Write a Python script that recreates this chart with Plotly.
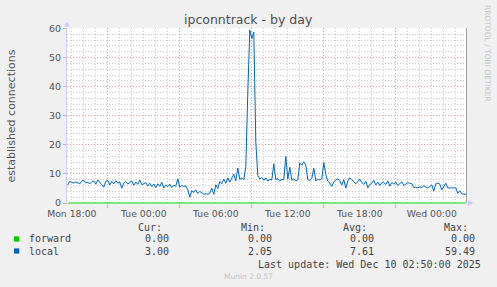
import plotly.graph_objects as go
import pandas as pd

# ---------------- data ----------------
start_time = "2025-12-08 17:40"
step = "10min"

local = [
    6.2, 7.5,                              # Mon 17:40, 17:50
    7.0, 6.9, 7.2, 7.0, 6.6, 7.6,          # Mon 18
    7.8, 6.9, 7.1, 6.6, 7.3, 7.5,          # Mon 19
    6.5, 7.9, 7.2, 6.3, 5.4, 7.4,          # Mon 20
    7.8, 6.2, 7.5, 6.6, 7.7, 6.8,          # Mon 21
    7.2, 5.1, 6.9, 7.4, 6.5, 7.0,          # Mon 22
    7.6, 6.1, 7.2, 6.4, 7.9, 6.3,          # Mon 23
    6.7, 7.0, 5.8, 6.8, 5.6, 6.5,          # Tue 00
    5.3, 6.6, 5.7, 7.1, 5.2, 6.2,          # Tue 01
    5.6, 6.5, 5.3, 6.1, 5.8, 8.3,          # Tue 02
    5.5, 6.0, 5.7, 5.9, 4.6, 2.05,         # Tue 03
    4.2, 3.6, 4.5, 3.3, 4.0, 3.4,          # Tue 04
    3.0, 3.2, 3.0, 3.4, 5.1, 3.0,          # Tue 05
    6.2, 5.0, 7.4, 6.6, 8.2, 6.8,          # Tue 06
    8.6, 7.2, 8.4, 9.9, 7.6, 12.0,         # Tue 07
    8.1, 8.6, 8.0, 12.5, 38.0, 59.49,      # Tue 08
    56.5, 58.8, 21.0, 9.5, 8.2, 8.8,       # Tue 09
    7.8, 8.6, 7.5, 8.2, 7.9, 13.5,         # Tue 10
    8.0, 8.4, 7.6, 8.1, 8.0, 16.0,         # Tue 11
    8.2, 12.3, 7.8, 8.3, 7.6, 8.0,         # Tue 12
    13.8, 13.0, 14.2, 13.0, 8.0, 7.8,      # Tue 13
    8.4, 12.0, 7.6, 8.2, 7.9, 8.3,         # Tue 14
    13.9, 9.8, 7.5, 6.9, 5.7, 7.2,         # Tue 15
    7.9, 8.3, 7.7, 6.2, 8.0, 5.1,          # Tue 16
    7.6, 8.7, 8.0, 7.3, 6.6, 7.4,          # Tue 17
    8.2, 7.0, 6.4, 7.5, 5.2, 6.4,          # Tue 18
    6.8, 7.8, 6.2, 7.2, 6.0, 7.0,          # Tue 19
    7.0, 6.4, 7.6, 5.8, 7.1, 6.5,          # Tue 20
    7.2, 6.0, 6.8, 7.3, 6.0, 6.5,          # Tue 21
    7.0, 6.8, 6.6, 5.3, 5.4, 5.2,          # Tue 22
    5.6, 5.3, 5.9, 5.5, 5.2, 5.7,          # Tue 23
    6.2, 4.1, 6.6, 6.8, 6.5, 4.5,          # Wed 00
    5.8, 6.8, 5.2, 5.3, 5.2, 5.2,          # Wed 01
    5.2, 3.3, 4.2, 3.1, 3.0, 3.0,          # Wed 02
]
forward = [0.0] * len(local)
times = pd.date_range(start_time, periods=len(local), freq=step)

series_names = ["forward", "local"]
series_colors = ["#00CC00", "#0066B3"]
stat_headers = ["Cur:", "Min:", "Avg:", "Max:"]
stat_forward = ["0.00", "0.00", "0.00", "0.00"]
stat_local = ["3.00", "2.05", "7.61", "59.49"]

tick_times = ["2025-12-08 18:00", "2025-12-09 00:00", "2025-12-09 06:00",
              "2025-12-09 12:00", "2025-12-09 18:00", "2025-12-10 00:00"]
tick_labels = ["Mon 18:00", "Tue 00:00", "Tue 06:00",
               "Tue 12:00", "Tue 18:00", "Wed 00:00"]
x_range = ["2025-12-08 17:36", "2025-12-10 02:56"]
y_range = [-0.344, 60.17]
y_ticks = [0, 10, 20, 30, 40, 50, 60]

# ---------------- layout geometry ----------------
W, H = 497, 287
L, R, T, B = 67, 30, 28, 83
PW, PH = W - L - R, H - T - B


def px(x):
    return (x - L) / PW


def py(y):
    return (H - B - y) / PH


MAJ = "#e6a0a0"
MIN = "#cacaca"
TXT = "#555555"
DASH = "1px,2px"

fig = go.Figure()
# invisible helper trace so the label axis (x2) is rendered
fig.add_trace(go.Scatter(x=times, y=forward, mode="lines", xaxis="x2", yaxis="y",
                         line=dict(color="rgba(0,0,0,0)", width=0),
                         hoverinfo="skip", showlegend=False))
for name, vals, col in [(series_names[0], forward, series_colors[0]),
                        (series_names[1], local, series_colors[1])]:
    fig.add_trace(go.Scatter(x=times, y=vals, mode="lines", name=name,
                             line=dict(color=col, width=1), hoverinfo="skip",
                             xaxis="x", yaxis="y"))

fig.update_layout(
    width=W, height=H,
    margin=dict(l=L, r=R, t=T, b=B, pad=0),
    paper_bgcolor="#F0F0F0", plot_bgcolor="#FFFFFF",
    showlegend=False,
    font=dict(family="DejaVu Sans", color=TXT, size=9.3),
    # grid axis (carries the data)
    xaxis=dict(type="date", range=x_range, showticklabels=False,
               tick0="2025-12-08 21:00", dtick=6 * 3600000,
               showgrid=True, gridcolor=MAJ, griddash=DASH, gridwidth=1,
               ticks="outside", ticklen=3, tickcolor=MAJ,
               zeroline=False, showline=False,
               minor=dict(dtick=3600000, showgrid=True, gridcolor=MIN,
                          griddash=DASH, ticks="")),
    # label axis
    xaxis2=dict(type="date", range=x_range, overlaying="x", anchor="y",
                side="bottom", tickmode="array",
                tickvals=tick_times, ticktext=tick_labels,
                showgrid=False, zeroline=False, showline=False, ticks="",
                ticklabelstandoff=3,
                tickfont=dict(size=9.3, color=TXT)),
    yaxis=dict(range=y_range, tickmode="array", tickvals=y_ticks,
               showgrid=True, gridcolor=MAJ, griddash=DASH,
               zeroline=False, showline=True, linecolor="#ccccf4",
               ticks="outside", ticklen=3, tickcolor=MAJ,
               tickfont=dict(size=9.5, color=TXT),
               minor=dict(dtick=2, tick0=0, showgrid=True, gridcolor=MIN,
                          griddash=DASH)),
)

ann = []
ann.append(dict(text="ipconntrack - by day", x=px(248.5), y=py(19),
                font=dict(size=12.5, color="#505050")))
ann.append(dict(text="established connections", x=px(10.5), y=py(116),
                textangle=-90, font=dict(size=11, color=TXT)))
ann.append(dict(text="RRDTOOL / TOBI OETIKER", x=px(487.5), y=py(53.5),
                textangle=90, font=dict(size=7.5, color="#c4c4c4")))
mono = "DejaVu Sans Mono"
hdr_right = [163.5, 267, 368.5, 470]
val_right = [170.5, 273.5, 375.5, 477]
for h, xr in zip(stat_headers, hdr_right):
    ann.append(dict(text=h, x=px(xr), y=py(228), xanchor="right",
                    font=dict(family=mono, size=10, color="#444")))
for row_y, name, stats in [(239, series_names[0], stat_forward),
                           (251, series_names[1], stat_local)]:
    ann.append(dict(text=name, x=px(26.5), y=py(row_y), xanchor="left",
                    font=dict(family=mono, size=10, color="#444")))
    for s, xr in zip(stats, val_right):
        ann.append(dict(text=s, x=px(xr), y=py(row_y), xanchor="right",
                        font=dict(family=mono, size=10, color="#444")))
ann.append(dict(text="Last update: Wed Dec 10 02:50:00 2025", x=px(482.5),
                y=py(264), xanchor="right",
                font=dict(family=mono, size=10, color="#444")))
ann.append(dict(text="Munin 2.0.57", x=px(248), y=py(276),
                font=dict(size=7.5, color="#c4c4c4")))
for a in ann:
    a.setdefault("xanchor", "center")
    a.setdefault("yanchor", "middle")
    a.update(xref="paper", yref="paper", showarrow=False)
fig.update_layout(annotations=ann)

shapes = []
# legend squares
for row_y, col in [(239, series_colors[0]), (251, series_colors[1])]:
    shapes.append(dict(type="rect", xref="paper", yref="paper",
                       x0=px(14), x1=px(19.3), y0=py(row_y - 2.6), y1=py(row_y + 2.6),
                       fillcolor=col, line=dict(width=0)))


def tri(pts):
    return "M " + " L ".join(f"{px(a):.5f},{py(b):.5f}" for a, b in pts) + " Z"


# axis arrows
shapes.append(dict(type="path", xref="paper", yref="paper",
                   path=tri([(64.2, 26.5), (69.8, 26.5), (67, 21.5)]),
                   fillcolor="#c8c8fa", line=dict(width=0)))
shapes.append(dict(type="path", xref="paper", yref="paper",
                   path=tri([(468, 200.3), (468, 205.7), (473.5, 203)]),
                   fillcolor="#c8c8fa", line=dict(width=0)))
# right frame line
shapes.append(dict(type="line", xref="paper", yref="paper",
                   x0=px(466.5), x1=px(466.5), y0=py(28), y1=py(203),
                   line=dict(color="#a0a0a0", width=1)))
fig.update_layout(shapes=shapes)

fig.write_html("out.html")
